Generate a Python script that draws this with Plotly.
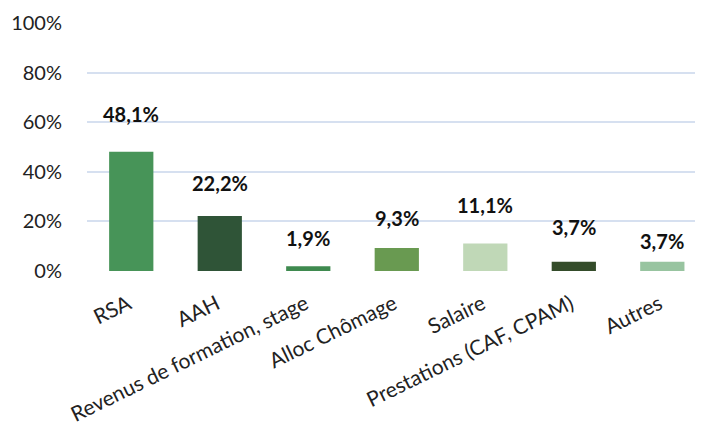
import plotly.graph_objects as go

categories = ["RSA", "AAH", "Revenus de formation, stage", "Alloc Chômage",
              "Salaire", "Prestations (CAF, CPAM)", "Autres"]
values = [0.481, 0.222, 0.019, 0.093, 0.111, 0.037, 0.037]
value_labels = ["48,1%", "22,2%", "1,9%", "9,3%", "11,1%", "3,7%", "3,7%"]
y_ticks = [0, 0.2, 0.4, 0.6, 0.8, 1.0]
y_tick_labels = ["0%", "20%", "40%", "60%", "80%", "100%"]

colors = ["#479458", "#2f5437", "#3f8a4f", "#699a51", "#c0d8b7", "#344c2a", "#98c4a0"]
label_shift = [38, 33, 28, 30, 38, 35, 21]

fig = go.Figure()
fig.add_trace(go.Bar(
    x=categories, y=values, width=0.5,
    marker=dict(color=colors, line=dict(width=0)),
    hoverinfo="skip",
))

for c, v, t, s in zip(categories, values, value_labels, label_shift):
    fig.add_annotation(x=c, y=v, text=f"<b>{t}</b>", showarrow=False,
                       yshift=s, font=dict(family="Lato", size=20, color="#111111"))

fig.update_layout(
    width=703, height=428,
    margin=dict(l=79, r=0, t=14, b=165, autoexpand=False),
    paper_bgcolor="white", plot_bgcolor="white",
    showlegend=False,
    font=dict(family="Lato", size=20, color="#222222"),
    xaxis=dict(range=[-0.5, 6.55], tickangle=-26, showgrid=False,
               showline=False, ticks="", automargin=False,
               ticklabelstandoff=16, ticklabelshift=-3,
               tickfont=dict(size=21)),
    yaxis=dict(range=[0, 1.004], tickvals=y_ticks, ticktext=y_tick_labels,
               showgrid=True, gridcolor="#d6e0f0", gridwidth=1.5,
               zeroline=False, showline=False, ticks="", automargin=False,
               ticklabelstandoff=24, tickfont=dict(size=20)),
)

fig.write_html("out.html")
